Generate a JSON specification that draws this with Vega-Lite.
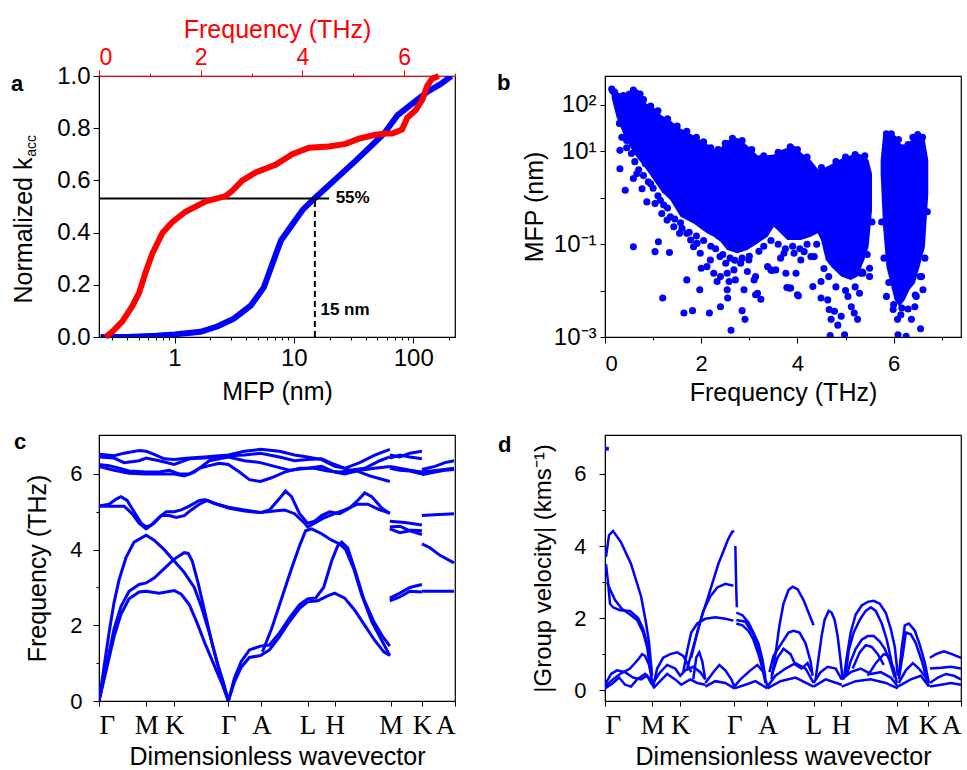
{
"$schema":"https://vega.github.io/schema/vega-lite/v6.json",
"padding":{"left":10,"top":16,"right":5,"bottom":0},
"config":{"font":"Liberation Sans","view":{"stroke":"black","strokeWidth":1.2},
"axis":{"labelFontSize":22,"titleFontSize":25,"labelColor":"black","titleColor":"black","domainColor":"black","tickColor":"black","grid":false,"titleFontWeight":"normal","labelFont":"Liberation Sans","titleFont":"Liberation Sans","tickSize":5,"labelOverlap":false},
"title":{"fontSize":22,"fontWeight":"bold","anchor":"start","frame":"group","baseline":"bottom","offset":0,"font":"Liberation Sans"}},
"columns":2,"bounds":"flush","spacing":{"row":98,"column":150},
"concat":[
{"width":356,"height":261,
"title":{"text":"a","dx":-88,"dy":83},
"resolve":{"scale":{"x":"independent"}},
"layer":[
{"encoding":{
"x":{"field":"mfp","type":"quantitative","scale":{"type":"log","domain":[0.233,224],"nice":false},"axis":{"orient":"bottom","title":"MFP (nm)","labelFontSize":24,"labelPadding":3,"titlePadding":9,"values":[0.3,0.4,0.5,0.6,0.7,0.8,0.9,1,2,3,4,5,6,7,8,9,10,20,30,40,50,60,70,80,90,100,200],"labelExpr":"datum.value == 1 || datum.value == 10 || datum.value == 100 ? format(datum.value, 'd') : ''","tickSize":{"condition":{"test":"datum.value == 1 || datum.value == 10 || datum.value == 100","value":6},"value":3}}},
"y":{"field":"k","type":"quantitative","scale":{"domain":[0,1],"nice":false},"axis":{"title":"Normalized k","labelFontSize":24,"labelPadding":3,"titlePadding":20,"titleY":154,"values":[0,0.1,0.2,0.3,0.4,0.5,0.6,0.7,0.8,0.9,1],"labelExpr":"indexof([0,0.2,0.4,0.6,0.8,1], datum.value) >= 0 ? format(datum.value, '.1f') : ''","tickSize":{"condition":{"test":"indexof([0,0.2,0.4,0.6,0.8,1], datum.value) >= 0","value":6},"value":3}}}},
"layer":[
{"data":{"values":[{"mfp":0.24,"k":0},{"mfp":0.4,"k":0},{"mfp":0.7,"k":0.005},{"mfp":1.0,"k":0.01},{"mfp":1.65,"k":0.02},{"mfp":2.28,"k":0.04},{"mfp":3.14,"k":0.07},{"mfp":4.35,"k":0.12},{"mfp":5.6,"k":0.19},{"mfp":6.6,"k":0.28},{"mfp":7.8,"k":0.37},{"mfp":10,"k":0.44},{"mfp":12,"k":0.49},{"mfp":14.8,"k":0.53},{"mfp":21.8,"k":0.6},{"mfp":32,"k":0.67},{"mfp":41.7,"k":0.72},{"mfp":57,"k":0.78},{"mfp":74,"k":0.85},{"mfp":102,"k":0.9},{"mfp":132,"k":0.94},{"mfp":171,"k":0.97},{"mfp":209,"k":1.0}]},
"mark":{"type":"line","color":"#0000ff","strokeWidth":6,"clip":true}},
{"data":{"values":[{"mfp":0.233,"mfp2":19.7,"k":0.531}]},"mark":{"type":"rule","color":"black","strokeWidth":2},"encoding":{"x2":{"field":"mfp2"}}},
{"data":{"values":[{"mfp":15,"k":0,"k2":0.531}]},"mark":{"type":"rule","color":"black","strokeWidth":2,"strokeDash":[6,4]},"encoding":{"y2":{"field":"k2"}}},
{"data":{"values":[{"mfp":22.4,"k":0.531,"t":"55%"},{"mfp":16.7,"k":0.105,"t":"15 nm"}]},"mark":{"type":"text","align":"left","baseline":"middle","fontSize":17,"fontWeight":"bold","color":"black"},"encoding":{"text":{"field":"t"}}},
{"data":{"values":[{"mfp":0.233,"k":0.732,"t":"acc"}]},"mark":{"type":"text","angle":270,"align":"center","baseline":"middle","fontSize":14,"dy":-67,"color":"black"},"encoding":{"text":{"field":"t"}}}
]},
{"data":{"values":[{"f":0.13,"k":0},{"f":0.26,"k":0.02},{"f":0.46,"k":0.06},{"f":0.66,"k":0.12},{"f":0.79,"k":0.17},{"f":0.92,"k":0.25},{"f":1.05,"k":0.32},{"f":1.25,"k":0.4},{"f":1.44,"k":0.44},{"f":1.7,"k":0.48},{"f":2.1,"k":0.52},{"f":2.49,"k":0.54},{"f":2.62,"k":0.56},{"f":2.82,"k":0.6},{"f":3.08,"k":0.63},{"f":3.47,"k":0.66},{"f":3.8,"k":0.7},{"f":4.13,"k":0.725},{"f":4.52,"k":0.73},{"f":4.85,"k":0.74},{"f":5.11,"k":0.76},{"f":5.44,"k":0.775},{"f":5.64,"k":0.78},{"f":5.77,"k":0.78},{"f":5.96,"k":0.795},{"f":6.06,"k":0.84},{"f":6.23,"k":0.87},{"f":6.36,"k":0.91},{"f":6.45,"k":0.96},{"f":6.55,"k":0.99},{"f":6.68,"k":1.0}]},
"mark":{"type":"line","color":"#ff0000","strokeWidth":6},
"encoding":{"x":{"field":"f","type":"quantitative","scale":{"domain":[0,7],"nice":false},"axis":{"orient":"top","title":"Frequency (THz)","labelFontSize":23,"labelPadding":1,"titlePadding":4,"values":[0,1,2,3,4,5,6,7],"labelExpr":"datum.value % 2 == 0 ? datum.value : ''","domainColor":"#ff0000","tickColor":"#ff0000","labelColor":"#ff0000","titleColor":"#ff0000","tickSize":{"condition":{"test":"datum.value % 2 == 0","value":6},"value":3}}},
"y":{"field":"k","type":"quantitative","axis":{"title":"Normalized k"}}}}
]},
{"width":356,"height":261,
"title":{"text":"b","dx":-108,"dy":23},
"encoding":{"x":{"field":"f","type":"quantitative","scale":{"domain":[0,7.4],"nice":false},"axis":{"title":"Frequency (THz)","labelPadding":10,"titlePadding":6,"values":[0,1,2,3,4,5,6,7],"labelExpr":"datum.value % 2 == 0 ? datum.value : ''","tickSize":{"condition":{"test":"datum.value % 2 == 0","value":6},"value":3}}},
"y":{"field":"mfp","type":"quantitative","scale":{"type":"log","domain":[0.001,420],"nice":false},"axis":{"title":"MFP (nm)","labelFontSize":24,"labelPadding":4,"titlePadding":6,"values":[0.001,0.01,0.1,1,10,100],"labelExpr":"datum.value == 100 ? '10²' : datum.value == 10 ? '10¹' : datum.value == 0.1 ? '10⁻¹' : datum.value == 0.001 ? '10⁻³' : ''"}}},
"layer":[
{"data":{"values":[
{"g":1,"f":0.14,"mfp":210,"lo":140},{"g":1,"f":0.24,"mfp":187,"lo":54},{"g":1,"f":0.38,"mfp":159,"lo":24},{"g":1,"f":0.52,"mfp":180,"lo":12.4},{"g":1,"f":0.66,"mfp":190,"lo":7.5},{"g":1,"f":0.87,"mfp":105,"lo":3.9},{"g":1,"f":1.01,"mfp":89,"lo":2.4},{"g":1,"f":1.18,"mfp":59,"lo":1.34},{"g":1,"f":1.36,"mfp":46,"lo":0.885},{"g":1,"f":1.57,"mfp":31,"lo":0.388},{"g":1,"f":1.84,"mfp":22,"lo":0.28},{"g":1,"f":2.12,"mfp":14.6,"lo":0.171},{"g":1,"f":2.26,"mfp":11.4,"lo":0.145},{"g":1,"f":2.4,"mfp":11.9,"lo":0.113},{"g":1,"f":2.54,"mfp":17.2,"lo":0.075},{"g":1,"f":2.75,"mfp":19.6,"lo":0.064},{"g":1,"f":2.96,"mfp":13.4,"lo":0.075},{"g":1,"f":3.17,"mfp":8.2,"lo":0.104},{"g":1,"f":3.38,"mfp":8.2,"lo":0.145},{"g":1,"f":3.51,"mfp":8.6,"lo":0.237},{"g":1,"f":3.65,"mfp":10.5,"lo":0.171},{"g":1,"f":3.79,"mfp":11.9,"lo":0.123},{"g":1,"f":3.93,"mfp":13.4,"lo":0.123},{"g":1,"f":4.07,"mfp":9.6,"lo":0.123},{"g":1,"f":4.28,"mfp":6.4,"lo":0.145},{"g":1,"f":4.42,"mfp":4.2,"lo":0.171},{"g":1,"f":4.49,"mfp":3.9,"lo":0.123},{"g":1,"f":4.59,"mfp":4.6,"lo":0.0457},{"g":1,"f":4.7,"mfp":5.2,"lo":0.0328},{"g":1,"f":4.91,"mfp":6.9,"lo":0.02},{"g":1,"f":5.11,"mfp":8.2,"lo":0.017},{"g":1,"f":5.25,"mfp":8.9,"lo":0.02},{"g":1,"f":5.39,"mfp":8.2,"lo":0.0457},{"g":1,"f":5.48,"mfp":6.4,"lo":0.088},{"g":1,"f":5.55,"mfp":3.3,"lo":0.541},
{"g":2,"f":5.73,"mfp":6.4,"lo":3.3},{"g":2,"f":5.78,"mfp":22,"lo":0.237},{"g":2,"f":5.85,"mfp":25,"lo":0.0328},{"g":2,"f":6.02,"mfp":23,"lo":0.0063},{"g":2,"f":6.12,"mfp":16,"lo":0.0045},{"g":2,"f":6.23,"mfp":11.4,"lo":0.0063},{"g":2,"f":6.33,"mfp":16,"lo":0.0104},{"g":2,"f":6.44,"mfp":21,"lo":0.0144},{"g":2,"f":6.54,"mfp":23,"lo":0.0328},{"g":2,"f":6.65,"mfp":17.2,"lo":0.088},{"g":2,"f":6.72,"mfp":6.4,"lo":1.23}]},
"mark":{"type":"area","color":"#0000ff","opacity":1,"clip":true},
"encoding":{"y2":{"field":"lo"},"detail":{"field":"g"}}},
{"data":{"values":[
{"f":0.31,"mfp":10.5},{"f":0.31,"mfp":4.2},{"f":0.42,"mfp":1.45},{"f":0.45,"mfp":17.2},{"f":0.49,"mfp":31},{"f":0.59,"mfp":2.6},{"f":0.66,"mfp":3.3},{"f":0.77,"mfp":1.57},{"f":0.84,"mfp":5.4},{"f":0.87,"mfp":0.815},{"f":0.95,"mfp":2.0},{"f":1.04,"mfp":0.75},{"f":1.15,"mfp":0.885},{"f":1.18,"mfp":0.458},{"f":1.25,"mfp":1.45},{"f":1.29,"mfp":0.33},{"f":1.36,"mfp":0.388},{"f":1.43,"mfp":0.237},{"f":1.55,"mfp":0.171},{"f":1.57,"mfp":0.289},{"f":1.7,"mfp":0.171},{"f":1.78,"mfp":0.123},{"f":1.84,"mfp":0.088},{"f":1.91,"mfp":0.104},{"f":1.98,"mfp":0.064},{"f":2.0,"mfp":0.0303},{"f":2.12,"mfp":0.0328},{"f":2.19,"mfp":0.0457},{"f":2.26,"mfp":0.0236},{"f":2.39,"mfp":0.054},{"f":2.4,"mfp":0.02},{"f":2.51,"mfp":0.0387},{"f":2.54,"mfp":0.0236},{"f":2.58,"mfp":0.0157},{"f":2.68,"mfp":0.0279},{"f":2.71,"mfp":0.017},{"f":2.82,"mfp":0.0387},{"f":2.89,"mfp":0.0104},{"f":2.96,"mfp":0.0257},{"f":2.99,"mfp":0.0457},{"f":3.1,"mfp":0.017},{"f":3.13,"mfp":0.02},{"f":3.17,"mfp":0.0088},{"f":3.24,"mfp":0.0065},{"f":3.38,"mfp":0.0328},{"f":3.45,"mfp":0.0279},{"f":3.55,"mfp":0.0279},{"f":3.65,"mfp":0.05},{"f":3.72,"mfp":0.064},{"f":3.76,"mfp":0.0236},{"f":3.83,"mfp":0.0113},{"f":3.93,"mfp":0.064},{"f":3.97,"mfp":0.0236},{"f":4.0,"mfp":0.0081},{"f":4.07,"mfp":0.0457},{"f":4.14,"mfp":0.069},{"f":4.28,"mfp":0.054},{"f":4.32,"mfp":0.0122},{"f":4.35,"mfp":0.054},{"f":4.49,"mfp":0.0157},{"f":4.49,"mfp":0.0069},{"f":4.63,"mfp":0.0063},{"f":4.66,"mfp":0.0039},{"f":4.7,"mfp":0.0024},{"f":4.77,"mfp":0.0036},{"f":4.84,"mfp":0.0018},{"f":4.91,"mfp":0.0028},{"f":4.98,"mfp":0.00112},{"f":5.05,"mfp":0.0075},{"f":5.12,"mfp":0.0045},{"f":5.18,"mfp":0.0033},{"f":5.25,"mfp":0.0024},{"f":5.29,"mfp":0.0088},{"f":5.36,"mfp":0.0236},{"f":5.5,"mfp":0.0303},{"f":5.5,"mfp":0.02},
{"f":0.59,"mfp":0.088},{"f":1.04,"mfp":0.069},{"f":1.11,"mfp":0.113},{"f":1.2,"mfp":0.0069},{"f":1.34,"mfp":0.066},{"f":1.64,"mfp":0.0033},{"f":1.7,"mfp":0.017},{"f":1.82,"mfp":0.0037},{"f":1.97,"mfp":0.0104},{"f":2.17,"mfp":0.0033},{"f":2.33,"mfp":0.0157},{"f":2.4,"mfp":0.0045},{"f":2.54,"mfp":0.0104},{"f":2.55,"mfp":0.0069},{"f":2.62,"mfp":0.0014},{"f":2.85,"mfp":0.0037},{"f":2.91,"mfp":0.0024},{"f":3.13,"mfp":0.0081},{"f":3.47,"mfp":0.027},{"f":3.78,"mfp":0.0116},{"f":3.86,"mfp":0.0113},{"f":4.02,"mfp":0.0077},{"f":4.68,"mfp":0.00107},{"f":5.32,"mfp":0.0236},
{"f":5.85,"mfp":0.0075},{"f":5.99,"mfp":0.0039},{"f":6.08,"mfp":0.0024},{"f":6.09,"mfp":0.00112},{"f":6.17,"mfp":0.0042},{"f":6.26,"mfp":0.00103},{"f":6.37,"mfp":0.0024},{"f":6.44,"mfp":0.0045},{"f":6.56,"mfp":0.0015},{"f":6.58,"mfp":0.02},{"f":6.61,"mfp":0.0104},{"f":6.47,"mfp":0.0075},
{"f":0.14,"mfp":220},{"f":0.21,"mfp":172},{"f":0.59,"mfp":210},{"f":0.73,"mfp":172},{"f":0.38,"mfp":159},{"f":0.16,"mfp":200},
{"f":0.3,"mfp":40},{"f":0.35,"mfp":20},{"f":0.45,"mfp":12},{"f":0.55,"mfp":9},{"f":0.62,"mfp":6},{"f":0.7,"mfp":4},{"f":0.8,"mfp":3},{"f":0.9,"mfp":2.2},{"f":1.0,"mfp":1.6},{"f":1.1,"mfp":1.1},{"f":1.22,"mfp":0.7},{"f":1.3,"mfp":0.6},{"f":1.45,"mfp":0.35},{"f":1.6,"mfp":0.22},{"f":1.75,"mfp":0.18},{"f":1.9,"mfp":0.15},{"f":2.05,"mfp":0.12},{"f":2.2,"mfp":0.09},{"f":2.3,"mfp":0.08},{"f":2.45,"mfp":0.06},{"f":2.6,"mfp":0.05},{"f":2.7,"mfp":0.045},{"f":2.85,"mfp":0.05},{"f":3.0,"mfp":0.055},{"f":3.2,"mfp":0.07},{"f":3.3,"mfp":0.09},{"f":3.45,"mfp":0.12},{"f":3.6,"mfp":0.1},{"f":3.75,"mfp":0.08},{"f":3.9,"mfp":0.09},{"f":4.05,"mfp":0.08},{"f":4.2,"mfp":0.1},{"f":4.4,"mfp":0.1},{"f":4.55,"mfp":0.03},{"f":4.65,"mfp":0.02},{"f":4.8,"mfp":0.012},{"f":5.0,"mfp":0.01},{"f":5.2,"mfp":0.012},{"f":5.35,"mfp":0.025},{"f":5.45,"mfp":0.06},{"f":5.55,"mfp":0.3},{"f":5.75,"mfp":0.3},{"f":5.8,"mfp":0.05},{"f":5.9,"mfp":0.015},{"f":6.0,"mfp":0.005},{"f":6.15,"mfp":0.003},{"f":6.3,"mfp":0.004},{"f":6.45,"mfp":0.008},{"f":6.55,"mfp":0.02},{"f":6.65,"mfp":0.05},{"f":6.7,"mfp":0.5},
{"f":0.2,"mfp":190},{"f":0.3,"mfp":150},{"f":0.5,"mfp":170},{"f":0.65,"mfp":180},{"f":0.8,"mfp":130},{"f":0.95,"mfp":95},{"f":1.1,"mfp":75},{"f":1.3,"mfp":50},{"f":1.5,"mfp":35},{"f":1.7,"mfp":27},{"f":1.9,"mfp":20},{"f":2.05,"mfp":16},{"f":2.2,"mfp":12},{"f":2.35,"mfp":11},{"f":2.5,"mfp":15},{"f":2.65,"mfp":19},{"f":2.85,"mfp":17},{"f":3.05,"mfp":11},{"f":3.3,"mfp":8},{"f":3.6,"mfp":9.5},{"f":3.85,"mfp":12.5},{"f":4.0,"mfp":11},{"f":4.2,"mfp":7.5},{"f":4.5,"mfp":4.5},{"f":4.8,"mfp":6},{"f":5.0,"mfp":7.5},{"f":5.2,"mfp":8.5},{"f":5.4,"mfp":8},{"f":5.85,"mfp":24},{"f":5.95,"mfp":24},{"f":6.1,"mfp":18},{"f":6.2,"mfp":12},{"f":6.3,"mfp":14},{"f":6.4,"mfp":20},{"f":6.5,"mfp":23},{"f":6.6,"mfp":20}]},
"mark":{"type":"circle","color":"#0000ff","size":50,"opacity":1,"clip":true}}
]},
{"width":356,"height":266,
"title":{"text":"c","dx":-85,"dy":23},
"data":{"values":[
{"b":"B1","k":0,"f":0},{"b":"B1","k":5,"f":0.9},{"b":"B1","k":10,"f":1.8},{"b":"B1","k":15,"f":2.6},{"b":"B1","k":20,"f":3.2},{"b":"B1","k":27,"f":3.8},{"b":"B1","k":35,"f":4.2},{"b":"B1","k":47,"f":4.38},{"b":"B1","k":55,"f":4.25},{"b":"B1","k":65,"f":4.0},{"b":"B1","k":75,"f":3.7},{"b":"B1","k":85,"f":3.4},{"b":"B1","k":95,"f":3.0},{"b":"B1","k":102,"f":2.5},{"b":"B1","k":110,"f":1.8},{"b":"B1","k":118,"f":1.0},{"b":"B1","k":124,"f":0.5},{"b":"B1","k":129,"f":0},
{"b":"B2","k":0,"f":0},{"b":"B2","k":8,"f":1.0},{"b":"B2","k":15,"f":1.9},{"b":"B2","k":22,"f":2.5},{"b":"B2","k":30,"f":2.9},{"b":"B2","k":40,"f":3.08},{"b":"B2","k":47,"f":3.12},{"b":"B2","k":55,"f":3.25},{"b":"B2","k":65,"f":3.5},{"b":"B2","k":75,"f":3.75},{"b":"B2","k":85,"f":3.92},{"b":"B2","k":89,"f":3.9},{"b":"B2","k":93,"f":3.7},{"b":"B2","k":99,"f":3.1},{"b":"B2","k":106,"f":2.3},{"b":"B2","k":113,"f":1.5},{"b":"B2","k":121,"f":0.7},{"b":"B2","k":129,"f":0},
{"b":"B3","k":0,"f":0},{"b":"B3","k":8,"f":0.9},{"b":"B3","k":15,"f":1.7},{"b":"B3","k":22,"f":2.3},{"b":"B3","k":30,"f":2.7},{"b":"B3","k":40,"f":2.88},{"b":"B3","k":47,"f":2.9},{"b":"B3","k":60,"f":2.85},{"b":"B3","k":75,"f":2.92},{"b":"B3","k":82,"f":2.82},{"b":"B3","k":90,"f":2.55},{"b":"B3","k":98,"f":2.05},{"b":"B3","k":106,"f":1.5},{"b":"B3","k":114,"f":1.0},{"b":"B3","k":122,"f":0.5},{"b":"B3","k":129,"f":0},
{"b":"B4","k":129,"f":0},{"b":"B4","k":135,"f":0.5},{"b":"B4","k":142,"f":0.9},{"b":"B4","k":150,"f":1.15},{"b":"B4","k":161,"f":1.2},{"b":"B4","k":170,"f":1.35},{"b":"B4","k":180,"f":1.7},{"b":"B4","k":190,"f":2.1},{"b":"B4","k":200,"f":2.45},{"b":"B4","k":208,"f":2.62},{"b":"B4","k":218,"f":2.65},{"b":"B4","k":228,"f":2.78},{"b":"B4","k":235,"f":2.85},{"b":"B4","k":245,"f":2.72},{"b":"B4","k":255,"f":2.4},{"b":"B4","k":265,"f":2.0},{"b":"B4","k":275,"f":1.6},{"b":"B4","k":284,"f":1.3},{"b":"B4","k":290,"f":1.2},
{"b":"B5","k":129,"f":0},{"b":"B5","k":135,"f":0.6},{"b":"B5","k":142,"f":1.05},{"b":"B5","k":150,"f":1.35},{"b":"B5","k":161,"f":1.45},{"b":"B5","k":170,"f":1.48},{"b":"B5","k":180,"f":1.8},{"b":"B5","k":190,"f":2.2},{"b":"B5","k":200,"f":2.55},{"b":"B5","k":208,"f":2.7},{"b":"B5","k":216,"f":2.72},{"b":"B5","k":224,"f":3.0},{"b":"B5","k":232,"f":3.7},{"b":"B5","k":238,"f":4.1},{"b":"B5","k":242,"f":4.2},{"b":"B5","k":248,"f":4.05},{"b":"B5","k":256,"f":3.4},{"b":"B5","k":264,"f":2.7},{"b":"B5","k":274,"f":2.1},{"b":"B5","k":283,"f":1.7},{"b":"B5","k":290,"f":1.45},
{"b":"B6","k":163,"f":1.3},{"b":"B6","k":172,"f":1.9},{"b":"B6","k":182,"f":2.7},{"b":"B6","k":192,"f":3.5},{"b":"B6","k":200,"f":4.1},{"b":"B6","k":206,"f":4.5},{"b":"B6","k":212,"f":4.55},{"b":"B6","k":222,"f":4.42},{"b":"B6","k":232,"f":4.25},{"b":"B6","k":240,"f":4.15},{"b":"B6","k":246,"f":4.0},{"b":"B6","k":254,"f":3.5},{"b":"B6","k":262,"f":2.8},{"b":"B6","k":272,"f":2.1},{"b":"B6","k":282,"f":1.6},{"b":"B6","k":290,"f":1.2},
{"b":"O1","k":0,"f":5.15},{"b":"O1","k":10,"f":5.2},{"b":"O1","k":18,"f":5.35},{"b":"O1","k":22,"f":5.4},{"b":"O1","k":28,"f":5.3},{"b":"O1","k":35,"f":5.0},{"b":"O1","k":42,"f":4.7},{"b":"O1","k":47,"f":4.6},{"b":"O1","k":52,"f":4.65},{"b":"O1","k":60,"f":4.85},{"b":"O1","k":67,"f":5.0},{"b":"O1","k":75,"f":5.0},{"b":"O1","k":82,"f":5.05},{"b":"O1","k":90,"f":5.15},{"b":"O1","k":100,"f":5.3},{"b":"O1","k":106,"f":5.32},{"b":"O1","k":115,"f":5.22},{"b":"O1","k":129,"f":5.12},{"b":"O1","k":145,"f":5.05},{"b":"O1","k":161,"f":4.98},{"b":"O1","k":170,"f":5.05},{"b":"O1","k":180,"f":5.35},{"b":"O1","k":186,"f":5.55},{"b":"O1","k":192,"f":5.4},{"b":"O1","k":200,"f":4.95},{"b":"O1","k":208,"f":4.7},{"b":"O1","k":215,"f":4.75},{"b":"O1","k":222,"f":4.9},{"b":"O1","k":230,"f":5.0},{"b":"O1","k":240,"f":4.95},{"b":"O1","k":250,"f":5.1},{"b":"O1","k":258,"f":5.3},{"b":"O1","k":265,"f":5.5},{"b":"O1","k":272,"f":5.4},{"b":"O1","k":282,"f":5.1},{"b":"O1","k":290,"f":4.95},
{"b":"O2","k":0,"f":5.15},{"b":"O2","k":15,"f":5.15},{"b":"O2","k":25,"f":5.15},{"b":"O2","k":33,"f":4.95},{"b":"O2","k":40,"f":4.7},{"b":"O2","k":47,"f":4.55},{"b":"O2","k":55,"f":4.7},{"b":"O2","k":62,"f":4.9},{"b":"O2","k":70,"f":4.9},{"b":"O2","k":77,"f":4.85},{"b":"O2","k":85,"f":4.9},{"b":"O2","k":92,"f":5.05},{"b":"O2","k":100,"f":5.2},{"b":"O2","k":108,"f":5.3},{"b":"O2","k":118,"f":5.2},{"b":"O2","k":129,"f":5.1},{"b":"O2","k":145,"f":5.02},{"b":"O2","k":161,"f":4.98},{"b":"O2","k":175,"f":5.02},{"b":"O2","k":185,"f":5.05},{"b":"O2","k":195,"f":4.95},{"b":"O2","k":205,"f":4.7},{"b":"O2","k":208,"f":4.6},{"b":"O2","k":215,"f":4.7},{"b":"O2","k":225,"f":4.85},{"b":"O2","k":235,"f":4.95},{"b":"O2","k":245,"f":5.05},{"b":"O2","k":258,"f":5.2},{"b":"O2","k":268,"f":5.2},{"b":"O2","k":280,"f":5.05},{"b":"O2","k":290,"f":4.97},
{"b":"T1","k":0,"f":6.52},{"b":"T1","k":15,"f":6.48},{"b":"T1","k":25,"f":6.55},{"b":"T1","k":40,"f":6.62},{"b":"T1","k":47,"f":6.6},{"b":"T1","k":55,"f":6.52},{"b":"T1","k":65,"f":6.4},{"b":"T1","k":75,"f":6.38},{"b":"T1","k":90,"f":6.42},{"b":"T1","k":105,"f":6.45},{"b":"T1","k":129,"f":6.5},{"b":"T1","k":145,"f":6.6},{"b":"T1","k":161,"f":6.65},{"b":"T1","k":180,"f":6.6},{"b":"T1","k":195,"f":6.5},{"b":"T1","k":208,"f":6.45},{"b":"T1","k":222,"f":6.38},{"b":"T1","k":235,"f":6.2},{"b":"T1","k":245,"f":6.15},{"b":"T1","k":260,"f":6.3},{"b":"T1","k":275,"f":6.5},{"b":"T1","k":290,"f":6.65},
{"b":"T2","k":0,"f":6.45},{"b":"T2","k":15,"f":6.42},{"b":"T2","k":25,"f":6.3},{"b":"T2","k":40,"f":6.35},{"b":"T2","k":47,"f":6.42},{"b":"T2","k":60,"f":6.35},{"b":"T2","k":75,"f":6.25},{"b":"T2","k":90,"f":6.4},{"b":"T2","k":105,"f":6.42},{"b":"T2","k":129,"f":6.48},{"b":"T2","k":145,"f":6.5},{"b":"T2","k":161,"f":6.55},{"b":"T2","k":180,"f":6.45},{"b":"T2","k":195,"f":6.35},{"b":"T2","k":208,"f":6.38},{"b":"T2","k":222,"f":6.4},{"b":"T2","k":235,"f":6.25},{"b":"T2","k":250,"f":6.1},{"b":"T2","k":265,"f":6.15},{"b":"T2","k":280,"f":6.35},{"b":"T2","k":290,"f":6.45},
{"b":"T3","k":0,"f":6.25},{"b":"T3","k":10,"f":6.22},{"b":"T3","k":20,"f":6.15},{"b":"T3","k":30,"f":6.08},{"b":"T3","k":47,"f":6.05},{"b":"T3","k":60,"f":6.05},{"b":"T3","k":70,"f":6.1},{"b":"T3","k":80,"f":6.0},{"b":"T3","k":90,"f":6.0},{"b":"T3","k":100,"f":6.15},{"b":"T3","k":110,"f":6.22},{"b":"T3","k":120,"f":6.28},{"b":"T3","k":129,"f":6.25},{"b":"T3","k":140,"f":6.05},{"b":"T3","k":150,"f":5.85},{"b":"T3","k":161,"f":5.8},{"b":"T3","k":172,"f":5.9},{"b":"T3","k":185,"f":6.05},{"b":"T3","k":200,"f":6.15},{"b":"T3","k":215,"f":6.15},{"b":"T3","k":228,"f":6.08},{"b":"T3","k":240,"f":6.05},{"b":"T3","k":255,"f":6.1},{"b":"T3","k":270,"f":5.95},{"b":"T3","k":290,"f":5.8},
{"b":"T4","k":0,"f":6.2},{"b":"T4","k":15,"f":6.1},{"b":"T4","k":30,"f":6.02},{"b":"T4","k":47,"f":6.0},{"b":"T4","k":60,"f":6.0},{"b":"T4","k":75,"f":6.0},{"b":"T4","k":85,"f":5.95},{"b":"T4","k":95,"f":6.05},{"b":"T4","k":110,"f":6.35},{"b":"T4","k":129,"f":6.45},{"b":"T4","k":145,"f":6.35},{"b":"T4","k":161,"f":6.3},{"b":"T4","k":175,"f":6.2},{"b":"T4","k":190,"f":6.1},{"b":"T4","k":208,"f":6.15},{"b":"T4","k":222,"f":6.2},{"b":"T4","k":235,"f":6.05},{"b":"T4","k":245,"f":6.0},{"b":"T4","k":260,"f":6.1},{"b":"T4","k":275,"f":6.15},{"b":"T4","k":290,"f":6.2},
{"b":"R1","k":290,"f":6.5},{"b":"R1","k":300,"f":6.45},{"b":"R1","k":310,"f":6.55},{"b":"R1","k":322,"f":6.6},
{"b":"R2","k":290,"f":6.42},{"b":"R2","k":300,"f":6.5},{"b":"R2","k":310,"f":6.45},{"b":"R2","k":322,"f":6.4},
{"b":"R3","k":290,"f":6.2},{"b":"R3","k":300,"f":6.15},{"b":"R3","k":310,"f":6.1},{"b":"R3","k":322,"f":6.05},
{"b":"R4","k":290,"f":6.15},{"b":"R4","k":300,"f":6.1},{"b":"R4","k":310,"f":6.08},{"b":"R4","k":322,"f":6.0},
{"b":"R5","k":290,"f":4.75},{"b":"R5","k":305,"f":4.72},{"b":"R5","k":322,"f":4.65},
{"b":"R6","k":290,"f":4.6},{"b":"R6","k":300,"f":4.62},{"b":"R6","k":308,"f":4.52},{"b":"R6","k":322,"f":4.5},
{"b":"R7","k":290,"f":4.55},{"b":"R7","k":300,"f":4.45},{"b":"R7","k":310,"f":4.5},{"b":"R7","k":322,"f":4.4},
{"b":"R8","k":290,"f":2.72},{"b":"R8","k":300,"f":2.85},{"b":"R8","k":310,"f":3.0},{"b":"R8","k":322,"f":3.08},
{"b":"R9","k":290,"f":2.65},{"b":"R9","k":300,"f":2.75},{"b":"R9","k":310,"f":2.9},{"b":"R9","k":322,"f":2.88},
{"b":"R10","k":322,"f":6.12},{"b":"R10","k":335,"f":6.2},{"b":"R10","k":345,"f":6.3},{"b":"R10","k":354,"f":6.35},
{"b":"R11","k":322,"f":5.98},{"b":"R11","k":335,"f":6.05},{"b":"R11","k":345,"f":6.1},{"b":"R11","k":354,"f":6.12},
{"b":"R12","k":322,"f":6.05},{"b":"R12","k":338,"f":6.1},{"b":"R12","k":354,"f":6.15},
{"b":"R13","k":322,"f":4.9},{"b":"R13","k":335,"f":4.92},{"b":"R13","k":354,"f":4.95},
{"b":"R14","k":322,"f":4.15},{"b":"R14","k":330,"f":4.05},{"b":"R14","k":340,"f":3.85},{"b":"R14","k":354,"f":3.65},
{"b":"R15","k":322,"f":2.9},{"b":"R15","k":340,"f":2.9},{"b":"R15","k":354,"f":2.9}]},
"mark":{"type":"line","color":"#0000ff","strokeWidth":3,"clip":true},
"encoding":{"x":{"field":"k","type":"quantitative","scale":{"domain":[0,355],"nice":false},"axis":{"title":"Dimensionless wavevector","titlePadding":6,"values":[0,47,75,129,162,208,235,291,322,355],"labelExpr":"['Γ','M','K','Γ','A','L','H','M','K','A'][indexof([0,47,75,129,162,208,235,291,322,355], datum.value)]","labelFont":"Liberation Serif","labelFontSize":27,"labelPadding":6}},
"y":{"field":"f","type":"quantitative","scale":{"domain":[0,7.03],"nice":false},"axis":{"title":"Frequency (THz)","labelPadding":11,"titlePadding":19,"values":[0,1,2,3,4,5,6],"labelExpr":"datum.value % 2 == 0 ? datum.value : ''","tickSize":{"condition":{"test":"datum.value % 2 == 0","value":6},"value":3}}},
"detail":{"field":"b"}}},
{"width":356,"height":266,
"title":{"text":"d","dx":-107,"dy":26},
"encoding":{"x":{"field":"k","type":"quantitative","scale":{"domain":[0,355],"nice":false},"axis":{"title":"Dimensionless wavevector","titlePadding":6,"values":[0,47,75,129,162,208,235,291,322,355],"labelExpr":"['Γ','M','K','Γ','A','L','H','M','K','A'][indexof([0,47,75,129,162,208,235,291,322,355], datum.value)]","labelFont":"Liberation Serif","labelFontSize":27,"labelPadding":6}},
"y":{"field":"v","type":"quantitative","scale":{"domain":[-0.3,7.08],"nice":false},"axis":{"title":"|Group velocity| (kms⁻¹)","titleFontSize":24,"labelPadding":13,"titlePadding":18,"values":[0,1,2,3,4,5,6],"labelExpr":"datum.value % 2 == 0 ? datum.value : ''","tickSize":{"condition":{"test":"datum.value % 2 == 0","value":6},"value":3}}}},
"layer":[
{"data":{"values":[
{"b":"d1","k":1,"v":3.7},{"b":"d1","k":4,"v":4.3},{"b":"d1","k":8,"v":4.42},{"b":"d1","k":16,"v":4.1},{"b":"d1","k":26,"v":3.5},{"b":"d1","k":36,"v":2.6},{"b":"d1","k":41,"v":1.85},{"b":"d1","k":44,"v":1.3},{"b":"d1","k":47,"v":0.4},
{"b":"d2","k":1,"v":3.5},{"b":"d2","k":3,"v":3.0},{"b":"d2","k":5,"v":2.4},{"b":"d2","k":8,"v":2.3},{"b":"d2","k":15,"v":2.22},{"b":"d2","k":25,"v":2.2},{"b":"d2","k":33,"v":2.0},{"b":"d2","k":38,"v":1.7},{"b":"d2","k":42,"v":1.3},{"b":"d2","k":46,"v":0.6},
{"b":"d3","k":2,"v":3.0},{"b":"d3","k":5,"v":2.8},{"b":"d3","k":10,"v":2.5},{"b":"d3","k":17,"v":2.25},{"b":"d3","k":25,"v":2.1},{"b":"d3","k":32,"v":1.95},{"b":"d3","k":38,"v":1.6},{"b":"d3","k":42,"v":1.2},{"b":"d3","k":45,"v":0.6},
{"b":"d4","k":0,"v":0.1},{"b":"d4","k":8,"v":0.3},{"b":"d4","k":15,"v":0.45},{"b":"d4","k":25,"v":0.6},{"b":"d4","k":33,"v":0.85},{"b":"d4","k":37,"v":1.0},{"b":"d4","k":40,"v":0.95},{"b":"d4","k":44,"v":0.7},{"b":"d4","k":48,"v":0.1},
{"b":"d4b","k":0,"v":0.15},{"b":"d4b","k":6,"v":0.45},{"b":"d4b","k":12,"v":0.55},{"b":"d4b","k":20,"v":0.5},{"b":"d4b","k":28,"v":0.35},{"b":"d4b","k":36,"v":0.3},{"b":"d4b","k":42,"v":0.4},{"b":"d4b","k":47,"v":0.15},
{"b":"d4c","k":0,"v":0.05},{"b":"d4c","k":8,"v":0.2},{"b":"d4c","k":14,"v":0.35},{"b":"d4c","k":20,"v":0.15},{"b":"d4c","k":26,"v":0.1},{"b":"d4c","k":32,"v":0.3},{"b":"d4c","k":40,"v":0.45},{"b":"d4c","k":47,"v":0.25},
{"b":"d5","k":48,"v":0.1},{"b":"d5","k":52,"v":0.6},{"b":"d5","k":58,"v":0.9},{"b":"d5","k":65,"v":1.0},{"b":"d5","k":72,"v":1.05},{"b":"d5","k":78,"v":0.95},{"b":"d5","k":82,"v":0.75},{"b":"d5","k":86,"v":0.5},
{"b":"d6","k":48,"v":0.2},{"b":"d6","k":55,"v":0.5},{"b":"d6","k":62,"v":0.7},{"b":"d6","k":70,"v":0.6},{"b":"d6","k":75,"v":0.4},{"b":"d6","k":80,"v":0.55},{"b":"d6","k":88,"v":0.65},{"b":"d6","k":95,"v":0.5},{"b":"d6","k":100,"v":0.3},
{"b":"d6b","k":48,"v":0.05},{"b":"d6b","k":55,"v":0.25},{"b":"d6b","k":62,"v":0.45},{"b":"d6b","k":70,"v":0.3},{"b":"d6b","k":76,"v":0.15},{"b":"d6b","k":85,"v":0.3},{"b":"d6b","k":92,"v":0.2},{"b":"d6b","k":100,"v":0.15},
{"b":"d7","k":82,"v":0.6},{"b":"d7","k":89,"v":1.3},{"b":"d7","k":96,"v":2.0},{"b":"d7","k":103,"v":2.6},{"b":"d7","k":113,"v":3.5},{"b":"d7","k":123,"v":4.2},{"b":"d7","k":127,"v":4.4},{"b":"d7","k":129,"v":4.4},
{"b":"d8","k":78,"v":0.5},{"b":"d8","k":82,"v":1.1},{"b":"d8","k":86,"v":1.6},{"b":"d8","k":92,"v":1.85},{"b":"d8","k":100,"v":1.98},{"b":"d8","k":110,"v":2.02},{"b":"d8","k":120,"v":1.98},{"b":"d8","k":128,"v":1.93},
{"b":"d9","k":86,"v":0.9},{"b":"d9","k":92,"v":1.6},{"b":"d9","k":98,"v":2.2},{"b":"d9","k":105,"v":2.6},{"b":"d9","k":112,"v":2.85},{"b":"d9","k":120,"v":2.95},{"b":"d9","k":128,"v":2.9},
{"b":"d10","k":88,"v":0.3},{"b":"d10","k":91,"v":0.9},{"b":"d10","k":94,"v":1.05},{"b":"d10","k":97,"v":0.8},{"b":"d10","k":100,"v":0.3},
{"b":"d10b","k":100,"v":0.2},{"b":"d10b","k":108,"v":0.5},{"b":"d10b","k":114,"v":0.7},{"b":"d10b","k":120,"v":0.55},{"b":"d10b","k":126,"v":0.3},{"b":"d10b","k":129,"v":0.1},
{"b":"d10c","k":100,"v":0.1},{"b":"d10c","k":110,"v":0.25},{"b":"d10c","k":120,"v":0.2},{"b":"d10c","k":129,"v":0.05},
{"b":"d11","k":130,"v":4.0},{"b":"d11","k":130.5,"v":3.3},{"b":"d11","k":131,"v":2.7},{"b":"d11","k":131.5,"v":2.3},
{"b":"d12","k":131,"v":2.15},{"b":"d12","k":137,"v":2.08},{"b":"d12","k":143,"v":1.88},{"b":"d12","k":148,"v":1.6},{"b":"d12","k":153,"v":1.3},{"b":"d12","k":157,"v":0.85},{"b":"d12","k":160,"v":0.35},
{"b":"d13","k":131,"v":1.85},{"b":"d13","k":137,"v":1.8},{"b":"d13","k":143,"v":1.65},{"b":"d13","k":148,"v":1.4},{"b":"d13","k":153,"v":1.0},{"b":"d13","k":157,"v":0.6},{"b":"d13","k":160,"v":0.2},
{"b":"d14","k":131,"v":1.95},{"b":"d14","k":140,"v":1.9},{"b":"d14","k":148,"v":1.55},{"b":"d14","k":155,"v":1.0},{"b":"d14","k":159,"v":0.4},
{"b":"d14b","k":129,"v":0.1},{"b":"d14b","k":135,"v":0.3},{"b":"d14b","k":145,"v":0.55},{"b":"d14b","k":152,"v":0.7},{"b":"d14b","k":158,"v":0.5},{"b":"d14b","k":162,"v":0.1},
{"b":"d14c","k":129,"v":0.05},{"b":"d14c","k":140,"v":0.15},{"b":"d14c","k":150,"v":0.25},{"b":"d14c","k":162,"v":0.05},
{"b":"d15","k":166,"v":0.3},{"b":"d15","k":170,"v":1.0},{"b":"d15","k":174,"v":1.8},{"b":"d15","k":178,"v":2.4},{"b":"d15","k":183,"v":2.78},{"b":"d15","k":187,"v":2.87},{"b":"d15","k":192,"v":2.8},{"b":"d15","k":198,"v":2.5},{"b":"d15","k":203,"v":2.15},{"b":"d15","k":208,"v":1.8},
{"b":"d16","k":164,"v":0.5},{"b":"d16","k":168,"v":0.95},{"b":"d16","k":176,"v":1.3},{"b":"d16","k":183,"v":1.6},{"b":"d16","k":188,"v":1.65},{"b":"d16","k":194,"v":1.6},{"b":"d16","k":200,"v":1.3},{"b":"d16","k":205,"v":0.8},{"b":"d16","k":207,"v":0.4},
{"b":"d17","k":166,"v":0.4},{"b":"d17","k":172,"v":0.9},{"b":"d17","k":178,"v":1.15},{"b":"d17","k":185,"v":1.0},{"b":"d17","k":190,"v":0.7},{"b":"d17","k":196,"v":0.6},{"b":"d17","k":202,"v":0.75},{"b":"d17","k":206,"v":0.5},
{"b":"d17b","k":162,"v":0.1},{"b":"d17b","k":170,"v":0.4},{"b":"d17b","k":180,"v":0.6},{"b":"d17b","k":190,"v":0.75},{"b":"d17b","k":200,"v":0.6},{"b":"d17b","k":208,"v":0.2},
{"b":"d17c","k":162,"v":0.05},{"b":"d17c","k":175,"v":0.25},{"b":"d17c","k":190,"v":0.35},{"b":"d17c","k":208,"v":0.1},
{"b":"d18","k":210,"v":0.3},{"b":"d18","k":213,"v":0.9},{"b":"d18","k":216,"v":1.5},{"b":"d18","k":219,"v":1.95},{"b":"d18","k":223,"v":2.2},{"b":"d18","k":226,"v":2.15},{"b":"d18","k":229,"v":1.95},{"b":"d18","k":232,"v":1.5},{"b":"d18","k":235,"v":0.8},{"b":"d18","k":237,"v":0.3},
{"b":"d18b","k":208,"v":0.2},{"b":"d18b","k":215,"v":0.5},{"b":"d18b","k":222,"v":0.65},{"b":"d18b","k":230,"v":0.6},{"b":"d18b","k":236,"v":0.3},
{"b":"d18c","k":208,"v":0.1},{"b":"d18c","k":220,"v":0.3},{"b":"d18c","k":236,"v":0.15},
{"b":"d19","k":238,"v":0.3},{"b":"d19","k":241,"v":0.9},{"b":"d19","k":245,"v":1.6},{"b":"d19","k":250,"v":2.1},{"b":"d19","k":256,"v":2.35},{"b":"d19","k":262,"v":2.45},{"b":"d19","k":268,"v":2.48},{"b":"d19","k":274,"v":2.4},{"b":"d19","k":280,"v":2.15},{"b":"d19","k":285,"v":1.7},{"b":"d19","k":289,"v":1.2},{"b":"d19","k":292,"v":0.4},
{"b":"d20","k":240,"v":0.4},{"b":"d20","k":243,"v":1.1},{"b":"d20","k":248,"v":1.6},{"b":"d20","k":254,"v":1.95},{"b":"d20","k":260,"v":2.2},{"b":"d20","k":265,"v":2.3},{"b":"d20","k":270,"v":2.2},{"b":"d20","k":276,"v":1.85},{"b":"d20","k":281,"v":1.4},{"b":"d20","k":286,"v":0.75},
{"b":"d21","k":241,"v":0.4},{"b":"d21","k":245,"v":0.8},{"b":"d21","k":250,"v":1.15},{"b":"d21","k":256,"v":1.4},{"b":"d21","k":262,"v":1.5},{"b":"d21","k":268,"v":1.5},{"b":"d21","k":274,"v":1.35},{"b":"d21","k":279,"v":1.15},{"b":"d21","k":284,"v":0.8},{"b":"d21","k":289,"v":0.35},
{"b":"d22","k":247,"v":0.6},{"b":"d22","k":254,"v":1.05},{"b":"d22","k":260,"v":1.25},{"b":"d22","k":266,"v":1.2},{"b":"d22","k":272,"v":1.0},{"b":"d22","k":278,"v":0.7},
{"b":"d23","k":262,"v":0.4},{"b":"d23","k":270,"v":0.75},{"b":"d23","k":278,"v":1.0},{"b":"d23","k":283,"v":0.95},{"b":"d23","k":288,"v":0.6},{"b":"d23","k":291,"v":0.2},
{"b":"d23b","k":236,"v":0.3},{"b":"d23b","k":245,"v":0.5},{"b":"d23b","k":255,"v":0.6},{"b":"d23b","k":265,"v":0.45},{"b":"d23b","k":275,"v":0.5},{"b":"d23b","k":285,"v":0.35},{"b":"d23b","k":292,"v":0.1},
{"b":"d23c","k":236,"v":0.1},{"b":"d23c","k":250,"v":0.25},{"b":"d23c","k":265,"v":0.3},{"b":"d23c","k":280,"v":0.2},{"b":"d23c","k":292,"v":0.05},
{"b":"d24","k":293,"v":0.4},{"b":"d24","k":296,"v":1.2},{"b":"d24","k":299,"v":1.8},{"b":"d24","k":303,"v":1.85},{"b":"d24","k":309,"v":1.65},{"b":"d24","k":314,"v":1.25},{"b":"d24","k":319,"v":0.75},{"b":"d24","k":323,"v":0.2},
{"b":"d25","k":293,"v":0.3},{"b":"d25","k":297,"v":1.0},{"b":"d25","k":300,"v":1.6},{"b":"d25","k":305,"v":1.55},{"b":"d25","k":310,"v":1.3},{"b":"d25","k":316,"v":0.8},{"b":"d25","k":321,"v":0.3},
{"b":"d26","k":293,"v":0.2},{"b":"d26","k":300,"v":0.55},{"b":"d26","k":307,"v":0.75},{"b":"d26","k":313,"v":0.6},{"b":"d26","k":320,"v":0.35},{"b":"d26","k":323,"v":0.1},
{"b":"d26b","k":292,"v":0.1},{"b":"d26b","k":305,"v":0.3},{"b":"d26b","k":315,"v":0.4},{"b":"d26b","k":323,"v":0.1},
{"b":"d27","k":324,"v":0.9},{"b":"d27","k":330,"v":1.0},{"b":"d27","k":338,"v":1.08},{"b":"d27","k":346,"v":1.0},{"b":"d27","k":355,"v":0.9},
{"b":"d28","k":324,"v":0.6},{"b":"d28","k":335,"v":0.62},{"b":"d28","k":345,"v":0.65},{"b":"d28","k":355,"v":0.6},
{"b":"d30","k":324,"v":0.2},{"b":"d30","k":332,"v":0.35},{"b":"d30","k":340,"v":0.45},{"b":"d30","k":348,"v":0.4},{"b":"d30","k":355,"v":0.3},
{"b":"d31","k":324,"v":0.1},{"b":"d31","k":335,"v":0.15},{"b":"d31","k":345,"v":0.2},{"b":"d31","k":355,"v":0.15}]},
"mark":{"type":"line","color":"#0000ff","strokeWidth":2.5,"clip":true},
"encoding":{"detail":{"field":"b"}}},
{"data":{"values":[{"k":2,"v":6.7}]},"mark":{"type":"square","color":"#0000ff","size":14,"opacity":1,"clip":true}}
]}
]}
